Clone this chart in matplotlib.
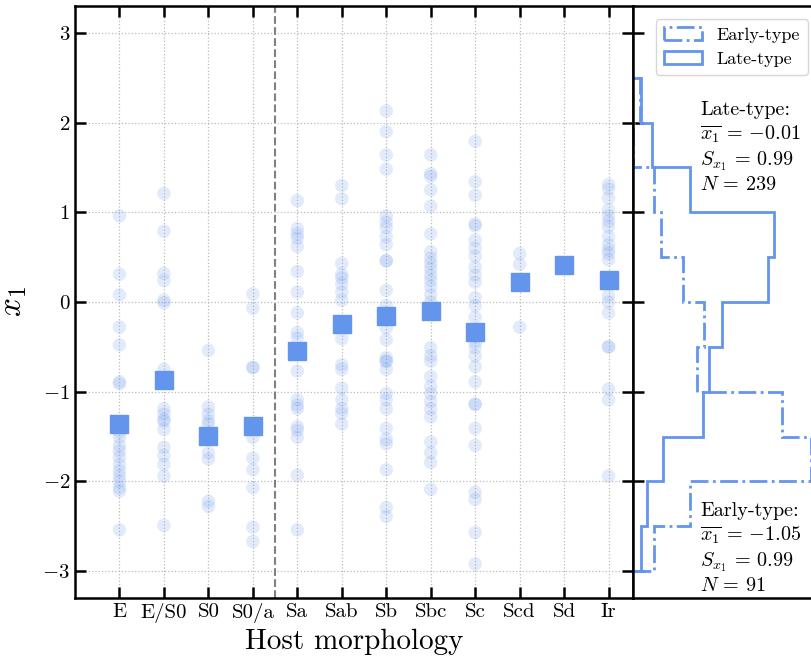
import numpy as np
import matplotlib
matplotlib.use("Agg")
import matplotlib.pyplot as plt

plt.rcParams['font.family'] = 'serif'
plt.rcParams['font.serif'] = ['cmr10']
plt.rcParams['mathtext.fontset'] = 'cm'
plt.rcParams['axes.formatter.use_mathtext'] = True

categories = ["E", "E/S0", "S0", "S0/a", "Sa", "Sab", "Sb", "Sbc", "Sc", "Scd", "Sd", "Ir"]

points = {
    "E": [0.96, 0.31, 0.08, -0.28, -0.48, -0.89, -0.91, -1.45, -1.51, -1.60, -1.66, -1.73,
          -1.81, -1.88, -1.94, -2.00, -2.07, -2.11, -2.54],
    "E/S0": [1.21, 0.79, 0.32, 0.24, 0.02, -0.01, -0.75, -1.19, -1.25, -1.31, -1.33, -1.42,
             -1.62, -1.71, -1.81, -1.94, -2.49],
    "S0": [-0.54, -1.17, -1.25, -1.32, -1.36, -1.68, -1.75, -2.22, -2.28],
    "S0/a": [0.09, -0.07, -0.73, -0.73, -1.51, -1.74, -1.87, -2.07, -2.51, -2.67],
    "Sa": [1.13, 0.82, 0.76, 0.71, 0.62, 0.34, 0.11, -0.12, -0.34, -0.40, -0.77, -1.09,
           -1.15, -1.19, -1.39, -1.43, -1.51, -1.93, -2.54],
    "Sab": [1.30, 1.15, 0.43, 0.31, 0.27, 0.20, 0.11, 0.02, -0.41, -0.70, -0.75, -0.96,
            -1.09, -1.19, -1.24, -1.36],
    "Sb": [2.13, 1.90, 1.64, 1.48, 0.96, 0.89, 0.83, 0.73, 0.64, 0.46, 0.46, 0.13, -0.04,
           -0.29, -0.42, -0.62, -0.66, -0.66, -0.75, -1.02, -1.09, -1.19, -1.41, -1.53,
           -1.58, -1.87, -2.29, -2.39],
    "Sbc": [1.64, 1.43, 1.40, 1.25, 1.07, 0.76, 0.56, 0.49, 0.43, 0.37, 0.30, 0.24, 0.17,
            0.08, 0.00, -0.51, -0.60, -0.66, -0.83, -0.94, -1.02, -1.11, -1.19, -1.28,
            -1.56, -1.68, -1.79, -2.09],
    "Sc": [1.79, 1.34, 1.19, 0.87, 0.85, 0.69, 0.60, 0.51, 0.39, 0.30, 0.22, 0.05, -0.04,
           -0.17, -0.45, -0.51, -0.60, -0.72, -0.89, -1.14, -1.14, -1.41, -1.60, -2.12,
           -2.20, -2.57, -2.92],
    "Scd": [0.54, 0.42, -0.28],
    "Sd": [0.41],
    "Ir": [1.31, 1.26, 1.16, 1.03, 0.96, 0.90, 0.84, 0.73, 0.64, 0.58, 0.54, 0.47, 0.25,
           0.07, 0.00, -0.12, -0.50, -0.50, -0.97, -1.09, -1.94],
}

medians = [-1.36, -0.865, -1.49, -1.38, -0.545, -0.245, -0.16, -0.105, -0.33, 0.225, 0.41, 0.25]

bin_edges = [-3.0, -2.5, -2.0, -1.5, -1.0, -0.5, 0.0, 0.5, 1.0, 1.5, 2.0, 2.5]
early_counts = [3, 8, 25, 21, 9, 10, 7, 4, 3, 0, 1]
late_counts = [3, 5, 11, 26, 28, 33, 50, 52, 21, 7, 3]

color = "#6495ED"
W, H = 811, 664
fig = plt.figure(figsize=(W / 100, H / 100), dpi=100)
ax = fig.add_axes([75 / W, 1 - 598 / H, (633 - 75) / W, (598 - 6) / H])
ax2 = fig.add_axes([633 / W, 1 - 598 / H, (814 - 633) / W, (598 - 6) / H])

xpos = np.arange(len(categories))
for i, c in enumerate(categories):
    vals = points[c]
    ax.scatter(np.full(len(vals), xpos[i]), vals, s=95, color=color, alpha=0.18,
               edgecolors='none', zorder=2)
ax.plot(xpos, medians, 's', ms=12.5, color=color, ls='none', zorder=3)
ax.axvline(3.5, color='grey', ls='--', lw=1.5, zorder=1)

ax.set_xlim(-1, 11.55)
ax.set_ylim(-3.3, 3.3)
ax.set_xticks(xpos)
ax.set_xticklabels(categories)
ax.set_yticks([-3, -2, -1, 0, 1, 2, 3])
ax.grid(True, ls=':', color='#bbbbbb', lw=0.9)
ax.set_axisbelow(True)
ax.tick_params(direction='in', length=8, width=1.8, top=True, right=True, labelsize=15)
ax.set_xlabel("Host morphology", fontsize=21, labelpad=4)
ax.set_ylabel("$x_1$", fontsize=24, labelpad=10)
for sp in ax.spines.values():
    sp.set_linewidth(1.8)

centers = [(bin_edges[k] + bin_edges[k + 1]) / 2 for k in range(len(bin_edges) - 1)]
ax2.hist(centers, bins=bin_edges, weights=early_counts, density=True, histtype='step',
         orientation='horizontal', color=color, lw=2, ls='-.', label='Early-type')
ax2.hist(centers, bins=bin_edges, weights=late_counts, density=True, histtype='step',
         orientation='horizontal', color=color, lw=2, ls='-', label='Late-type')
ax2.set_ylim(-3.3, 3.3)
ax2.set_xlim(0, (814 - 633) / 323.5)
ax2.set_yticks([-3, -2, -1, 0, 1, 2, 3])
ax2.set_xticks([])
ax2.tick_params(direction='in', length=8, width=1.8, labelleft=False)
for sp in ax2.spines.values():
    sp.set_linewidth(1.8)
ax2.legend(loc='upper right', fontsize=13, bbox_to_anchor=(1.015, 0.993),
           handlelength=2.1, borderpad=0.45, labelspacing=0.45, handletextpad=0.8)

fig.text(700 / W, 1 - 101 / H,
         "Late-type:\n$\\overline{x_1}$ = $-0.01$\n$S_{x_1}$ = 0.99\n$N$ = 239",
         fontsize=14.5, va='top', ha='left', linespacing=1.25)
fig.text(700 / W, 1 - 502 / H,
         "Early-type:\n$\\overline{x_1}$ = $-1.05$\n$S_{x_1}$ = 0.99\n$N$ = 91",
         fontsize=14.5, va='top', ha='left', linespacing=1.25)

fig.savefig("out.png", dpi=100)
